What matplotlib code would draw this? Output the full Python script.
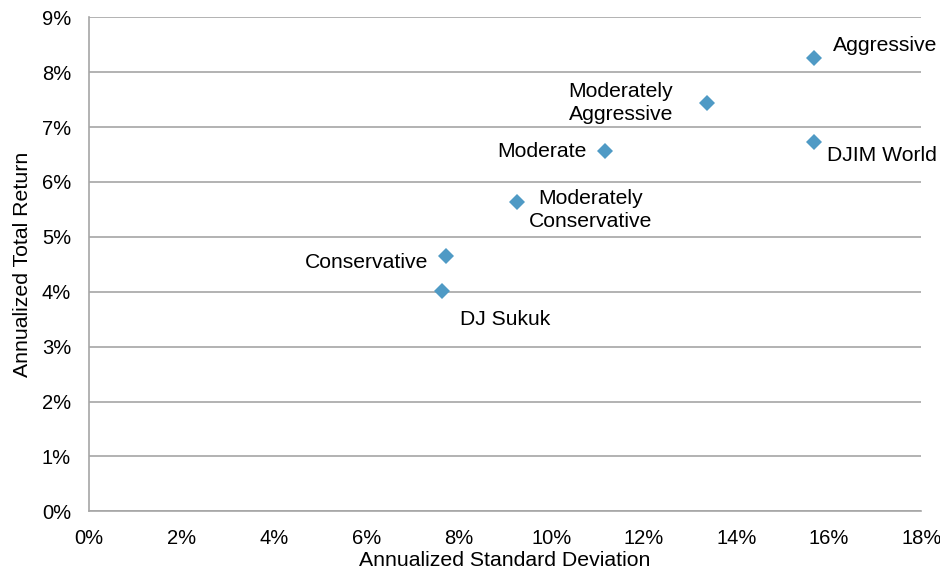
import matplotlib
matplotlib.use("Agg")
import matplotlib.pyplot as plt
from matplotlib.ticker import FuncFormatter, MultipleLocator

# Risk / return of each portfolio (annualized, in percent)
names = ["Aggressive", "Moderately\nAggressive", "DJIM World", "Moderate",
         "Moderately\nConservative", "Conservative", "DJ Sukuk"]
std_dev = [15.69, 13.36, 15.68, 11.17, 9.25, 7.72, 7.64]
total_return = [8.25, 7.44, 6.72, 6.57, 5.64, 4.66, 4.01]

# label offsets in pixels (dx, dy) relative to each point
label_offsets = [(71, 13), (-86, 0), (68, -13), (-63, -1),
                 (74, -8), (-79, -7), (63, -28)]

plt.rcParams["font.family"] = ["Liberation Sans", "DejaVu Sans"]

fig = plt.figure(figsize=(9.4, 5.71), dpi=100)
ax = fig.add_axes([0.0947, 0.1044, 0.8853, 0.8653])

grid_color = "#a6a6a6"
ax.set_xlim(0, 18)
ax.set_ylim(0, 9)
ax.yaxis.set_major_locator(MultipleLocator(1))
ax.xaxis.set_major_locator(MultipleLocator(2))
pct = FuncFormatter(lambda v, _: f"{v:.0f}%")
ax.xaxis.set_major_formatter(pct)
ax.yaxis.set_major_formatter(pct)

ax.grid(axis="y", color=grid_color, linewidth=1.2)
ax.set_axisbelow(True)
for side in ("top", "right"):
    ax.spines[side].set_visible(False)
ax.spines["left"].set_color(grid_color)
ax.spines["bottom"].set_color(grid_color)
ax.spines["left"].set_linewidth(1.2)
ax.spines["bottom"].set_linewidth(1.2)
ax.tick_params(axis="both", length=0, labelsize=14.5, colors="black")
ax.tick_params(axis="y", pad=13)
ax.tick_params(axis="x", pad=12.5)

ax.plot(std_dev, total_return, linestyle="none", marker="D",
        markersize=8, color="#4f9ac5", markeredgewidth=0, clip_on=False)

for name, x, y, (dx, dy) in zip(names, std_dev, total_return, label_offsets):
    ax.annotate(name, (x, y), xytext=(dx, dy), textcoords="offset pixels",
                ha="center", va="center", multialignment="center",
                fontsize=15.2, linespacing=1.25, annotation_clip=False)

ax.set_xlabel("Annualized Standard Deviation", fontsize=15.3, labelpad=2)
ax.set_ylabel("Annualized Total Return", fontsize=15.3, labelpad=7)

fig.savefig("out.png", dpi=100)
